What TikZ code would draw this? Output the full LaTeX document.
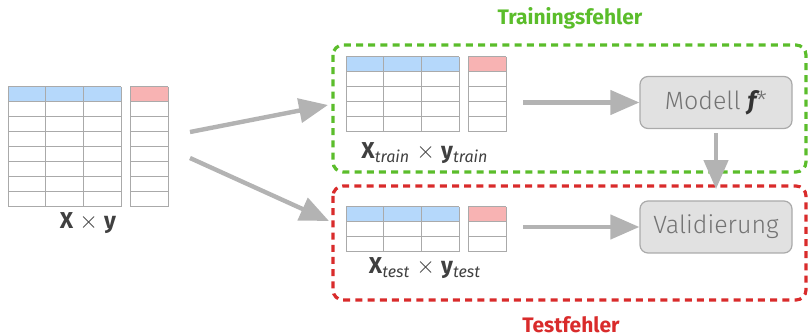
\documentclass[tikz,border=0pt]{standalone}
\usepackage{fontspec}
\setmainfont{Fira Sans}
\newfontfamily\firalight{Fira Sans Light}
\usetikzlibrary{arrows.meta}

\definecolor{headblue}{HTML}{B5D8FB}
\definecolor{headred}{HTML}{F8B3B3}
\definecolor{gridgray}{HTML}{AAAAAA}
\definecolor{arrgray}{HTML}{B3B3B3}
\definecolor{boxgray}{HTML}{E1E1E1}
\definecolor{trgreen}{HTML}{5BBD2B}
\definecolor{tered}{HTML}{D92B2B}

\tikzset{
  arr/.style={arrgray, line width=2.2pt, -{Triangle[length=14.5pt,width=12pt]}},
  modelbox/.style={draw=gridgray, fill=boxgray, rounded corners=4pt, line width=0.6pt,
    minimum width=76pt, minimum height=26pt, text=black!55, font=\firalight\fontsize{12.5}{14}\selectfont},
  errbox/.style={dash pattern=on 3.5pt off 2.6pt, line width=1.6pt, rounded corners=5pt},
  lab/.style={text=black!75, font=\fontsize{11.5}{13}\selectfont},
  errlab/.style={font=\bfseries\fontsize{10.5}{13}\selectfont},
}

% #1 x, #2 y (top), #3 number of rows incl. header
\newcommand{\datatab}[3]{%
  \fill[headblue] (#1,#2) rectangle ++(113,15);
  \fill[headred] (#1+122,#2) rectangle ++(38,15);
  \foreach \k in {0,...,#3} {
    \draw[gridgray, line width=0.5pt] (#1,#2+15*\k) -- ++(113,0);
    \draw[gridgray, line width=0.5pt] (#1+122,#2+15*\k) -- ++(38,0);
  }
  \foreach \c in {0,37.7,75.3,113,122,160}
    \draw[gridgray, line width=0.5pt] (#1+\c,#2) -- ++(0,15*#3);
}

\begin{document}
\begin{tikzpicture}[x=0.5pt, y=-0.5pt]
\useasboundingbox (0,0) rectangle (809,336);

% data tables
\datatab{8}{87}{8}
\datatab{346}{57}{5}
\datatab{346}{207}{3}

\node[lab] (full) at (88,223) {\textbf{X} $\times$ \textbf{y}};
\node[lab] (train) at (425,153) {\textbf{X}\textsubscript{\itshape train} $\times$ \textbf{y}\textsubscript{\itshape train}};
\node[lab] (test) at (425,268) {\textbf{X}\textsubscript{\itshape test} $\times$ \textbf{y}\textsubscript{\itshape test}};

% error regions
\draw[errbox, trgreen] (333,45) rectangle (806,172);
\draw[errbox, tered] (333,186) rectangle (806,300);
\node[errlab, text=trgreen] (trerr) at (570,18) {Trainingsfehler};
\node[errlab, text=tered] (teerr) at (571,325) {Testfehler};

% models
\node[modelbox] (model) at (716,102.5) {Modell {\fontspec{Fira Sans}\bfseries\itshape\color{black!80}f}*};
\node[modelbox] (valid) at (716,227) {Validierung};

% arrows
\coordinate (s1) at (190,132);
\coordinate (t1) at (328,105);
\coordinate (s2) at (190,158);
\coordinate (t2) at (329,221);
\coordinate (s3) at (523,102.5);
\coordinate (s4) at (523,227);
\draw[arr] (s1) -- (t1);
\draw[arr] (s2) -- (t2);
\draw[arr] (s3) -- (model.west);
\draw[arr] (s4) -- (valid.west);
\draw[arr] ([yshift=-2pt]model.south) -- ([yshift=-30pt]model.south);
\end{tikzpicture}
\end{document}
